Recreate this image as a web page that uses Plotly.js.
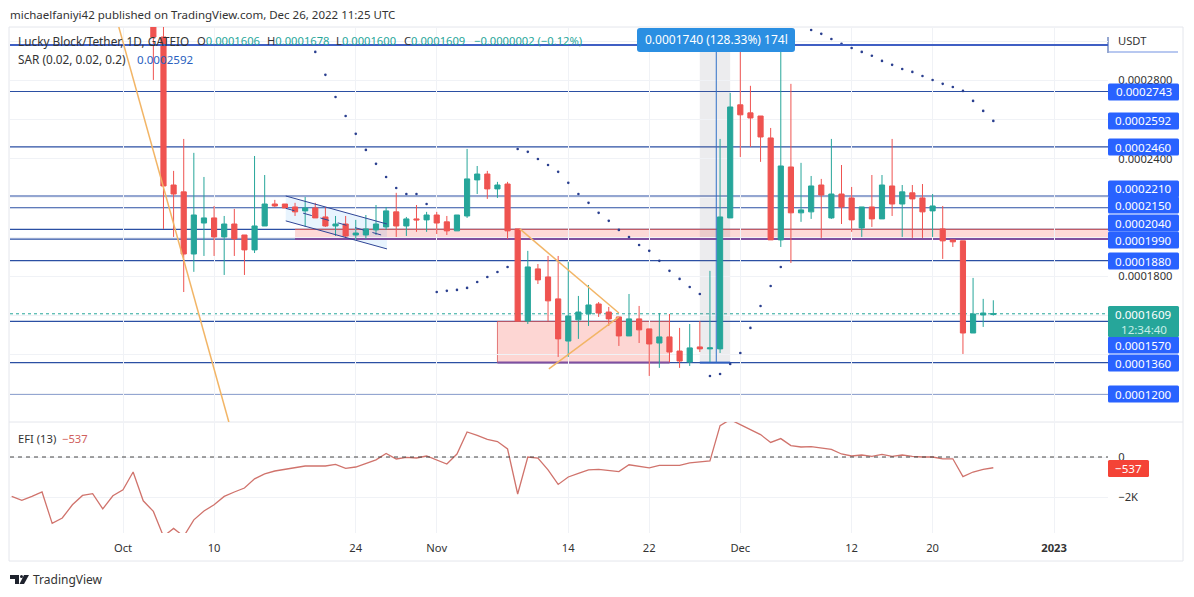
<!DOCTYPE html>
<html>
<head>
<meta charset="utf-8">
<script src="https://cdn.plot.ly/plotly-3.0.1.min.js"></script>
<style>html,body{margin:0;padding:0;background:#fff}#chart{width:1194px;height:597px}</style>
</head>
<body>
<div id="chart"></div>
<script>
// Prices are listed in units of 0.0001 USDT
const PRICE_UNIT = 1e-4;
const firstCandleDay = '2022-10-04';
const open  = [3.090,3.021,2.266,2.231,1.914,2.072,2.098,2.001,2.067,2.011,1.935,2.057,2.169,2.169,2.154,2.134,2.149,2.103,2.057,2.067,2.011,2.011,2.037,2.052,2.129,2.057,2.093,2.088,2.113,2.078,2.032,2.108,2.292,2.322,2.246,2.271,2.042,1.572,1.838,1.797,1.685,1.470,1.578,1.608,1.659,1.618,1.593,1.496,1.583,1.532,1.460,1.491,1.419,1.363,1.440,1.430,1.430,2.098,2.675,2.634,2.618,2.506,1.986,2.358,2.124,2.129,2.266,2.098,2.220,2.200,2.047,2.154,2.093,2.261,2.169,2.226,2.200,2.134,2.042,1.986,1.981,1.511,1.603,1.606];
const high  = [3.200,3.200,2.338,2.501,2.430,2.307,2.159,2.108,2.144,2.011,2.414,2.317,2.190,2.169,2.175,2.205,2.175,2.154,2.108,2.108,2.088,2.113,2.164,2.154,2.226,2.103,2.164,2.129,2.129,2.108,2.113,2.450,2.363,2.338,2.282,2.282,2.042,1.930,1.863,1.904,1.904,1.874,1.700,1.756,1.669,1.644,1.593,1.710,1.649,1.532,1.613,1.608,1.537,1.557,1.572,1.828,2.501,2.736,2.965,2.772,2.618,2.557,2.970,2.782,2.379,2.312,2.297,2.501,2.368,2.256,2.154,2.317,2.317,2.501,2.266,2.266,2.271,2.220,2.159,1.986,1.981,1.792,1.685,1.678];
const low   = [2.802,2.042,2.001,1.720,1.823,1.904,1.904,1.807,1.904,1.807,1.919,2.057,2.154,2.149,2.108,2.052,2.098,2.052,2.006,1.996,1.986,1.991,2.011,2.037,2.001,2.006,2.027,2.027,2.016,2.011,2.032,2.098,2.220,2.195,2.200,1.991,1.572,1.557,1.761,1.572,1.389,1.389,1.481,1.547,1.593,1.547,1.445,1.496,1.460,1.292,1.333,1.363,1.333,1.343,1.414,1.363,1.409,2.098,2.409,2.460,2.384,1.986,1.950,1.868,2.078,2.093,1.996,2.093,2.067,2.027,2.001,2.052,2.093,2.108,2.001,1.996,1.996,2.001,1.889,1.950,1.404,1.511,1.542,1.600];
const close = [3.021,2.261,2.220,1.914,2.113,2.098,2.001,2.067,1.991,1.935,2.057,2.169,2.159,2.149,2.129,2.149,2.098,2.057,2.067,2.006,2.021,2.042,2.067,2.134,2.057,2.093,2.088,2.113,2.072,2.032,2.113,2.297,2.322,2.246,2.266,2.032,1.572,1.848,1.782,1.675,1.481,1.598,1.618,1.654,1.613,1.583,1.496,1.583,1.527,1.455,1.491,1.414,1.368,1.435,1.430,1.435,2.103,2.664,2.624,2.608,2.511,1.986,2.363,2.124,2.139,2.261,2.215,2.220,2.154,2.088,2.154,2.093,2.266,2.169,2.231,2.195,2.129,2.159,1.981,1.976,1.511,1.608,1.613,1.609];

// Parabolic SAR segments: [first day, values...]
const sarUp1   = ['2022-10-20',2.945,2.828,2.715,2.618,2.527,2.445,2.374,2.307,2.251,2.220,2.220,2.169];
const sarDown1 = ['2022-11-01',1.720,1.726,1.731,1.741,1.771,1.797,1.822,1.848];
const sarUp2   = ['2022-11-09',2.450,2.435,2.399,2.368,2.333,2.277,2.220,2.175,2.124,2.083,2.037,2.001,1.960,1.930,1.879,1.828,1.787,1.746,1.710];
const sarDown2 = ['2022-11-28',1.292,1.302,1.353,1.409,1.537,1.649,1.751,1.848];
const sarUp3   = ['2022-12-08',3.057,3.037,3.011,2.986,2.965,2.945,2.925,2.899,2.879,2.858,2.843,2.822,2.802,2.782,2.766,2.746,2.695,2.644,2.593];

// Elder force index, thousands, daily from 20 Sep
const efiFirstDay = '2022-09-20';
const efi = [-1.97,-2.17,-1.97,-1.75,-3.32,-3.05,-2.39,-1.92,-1.83,-2.59,-1.94,-1.64,-0.75,-2.19,-2.72,-3.97,-3.57,-3.97,-3.14,-2.70,-2.39,-1.97,-1.75,-1.55,-1.09,-0.84,-0.70,-0.62,-0.54,-0.45,-0.45,-0.45,-0.37,-0.57,-0.50,-0.30,-0.14,0.18,-0.10,-0.02,-0.05,0.05,-0.17,-0.35,0.15,1.25,1.08,0.88,0.77,0.40,-1.85,0.00,-0.05,-0.64,-1.37,-1.00,-0.82,-0.64,-0.62,-0.67,-0.73,-0.39,-0.47,-0.54,-0.42,-0.42,-0.42,-0.29,-0.24,-0.20,1.57,1.87,1.62,1.37,1.12,0.73,0.92,0.57,0.50,0.52,0.45,0.38,0.15,0.05,0.10,0.03,0.13,0.03,0.10,0.03,0.00,0.00,-0.09,-0.09,-0.98,-0.75,-0.62,-0.537];

const levels = [2.743,2.460,2.210,2.150,2.040,1.990,1.880,1.570,1.360,1.200];
const axisLabels = ['0.0002743','0.0002592','0.0002460','0.0002210','0.0002150','0.0002040','0.0001990','0.0001880','0.0001570','0.0001360','0.0001200'];
const priceGrid = [1.2,1.4,1.6,1.8,2.0,2.2,2.4,2.6,2.8,3.0];
const priceGridShown = [1.8,2.4,2.8];
const timeTicks = ['2022-10-01','2022-10-10','2022-10-24','2022-11-01','2022-11-14','2022-11-22','2022-12-01','2022-12-12','2022-12-20','2023-01-01'];
const timeLabels = ['Oct','10','24','Nov','14','22','Dec','12','20','<b>2023</b>'];

// Helpers
const p = v => v * PRICE_UNIT;
const days = (start, n) => {
  const out = [], d = new Date(start + 'T00:00:00Z');
  for (let i = 0; i < n; i++) { out.push(d.toISOString().slice(0,10)); d.setUTCDate(d.getUTCDate()+1); }
  return out;
};
const W = 1194, H = 597, L = 10, R = 1108, T = 27, B = 561;
const px = x => (x - L) / (R - L);
const py = y => (B - y) / (B - T);
const FONT = '"Noto Sans", sans-serif';

const candleDays = days(firstCandleDay, open.length);
const sarSeg = seg => ({x: days(seg[0], seg.length-1), y: seg.slice(1).map(p)});
const sarAll = [sarUp1,sarDown1,sarUp2,sarDown2,sarUp3].map(sarSeg);

const traces = [
  {type:'candlestick', x:candleDays, open:open.map(p), high:high.map(p), low:low.map(p), close:close.map(p),
   increasing:{line:{color:'#26a69a',width:1},fillcolor:'#26a69a'},
   decreasing:{line:{color:'#ef5350',width:1},fillcolor:'#ef5350'},
   whiskerwidth:0, xaxis:'x', yaxis:'y', showlegend:false},
  {type:'scatter', mode:'markers', x:sarAll.flatMap(s=>s.x), y:sarAll.flatMap(s=>s.y),
   marker:{size:2.6,color:'#2a3f8f'}, xaxis:'x', yaxis:'y', showlegend:false},
  {type:'scatter', mode:'lines', x:days(efiFirstDay, efi.length), y:efi,
   line:{color:'#d0736c',width:1.3}, xaxis:'x', yaxis:'y2', showlegend:false}
];

const BLUE = '#2b4fa3';
const ORANGE = '#f2b566';
const seg = (x0,y0,x1,y1,line,layer) => ({type:'line',xref:'x',yref:'y',x0,x1,y0:p(y0),y1:p(y1),line,layer:layer||'above'});
const pxLine = (x0,y0,x1,y1,color,width) => ({type:'line',xref:'paper',yref:'paper',x0:px(x0),x1:px(x1),y0:py(y0),y1:py(y1),line:{color,width},layer:'below'});
const round = (x0,y0,x1,y1,r,color) => ({type:'path',xref:'paper',yref:'paper',fillcolor:color,line:{width:0},layer:'above',
  path:`M ${px(x0+r)},${py(y0)} L ${px(x1-r)},${py(y0)} Q ${px(x1)},${py(y0)} ${px(x1)},${py(y0+r)} L ${px(x1)},${py(y1-r)} Q ${px(x1)},${py(y1)} ${px(x1-r)},${py(y1)} L ${px(x0+r)},${py(y1)} Q ${px(x0)},${py(y1)} ${px(x0)},${py(y1-r)} L ${px(x0)},${py(y0+r)} Q ${px(x0)},${py(y0)} ${px(x0+r)},${py(y0)} Z`});

const boxYs = [92,121,147,189,205,223,240,261,345,363,394];
const BOXL = 1108, BOXR = 1179, BOXC = (BOXL+BOXR)/2;

const shapes = [
  // Frame and pane separator
  {type:'rect',xref:'paper',yref:'paper',x0:px(9),x1:px(1183),y0:py(561),y1:py(27),line:{color:'#e4e6ec',width:1},layer:'below'},
  pxLine(9,422,1183,422,'#e4e6ec',1),
  pxLine(1108,37,1108,53,'#2b4fa3',1),
  pxLine(1109,52,1178,52,'#b8c8f0',2),
  // Supply / demand zones
  {type:'rect',xref:'x',yref:'y',x0:'2022-10-18',x1:'2023-01-06 08:00',y0:p(1.99),y1:p(2.04),fillcolor:'rgba(244,67,54,0.2)',line:{width:0},layer:'below'},
  {type:'rect',xref:'x',yref:'y',x0:'2022-11-07',x1:'2022-11-24',y0:p(1.36),y1:p(1.57),fillcolor:'rgba(244,67,54,0.22)',line:{color:'rgba(220,90,90,0.8)',width:1},layer:'below'},
  // Date/price range band
  {type:'rect',xref:'x',yref:'y',x0:'2022-11-27',x1:'2022-11-30',y0:p(1.36),y1:p(2.98),fillcolor:'rgba(120,123,134,0.14)',line:{width:0},layer:'below'},
  // Channel
  {type:'path',xref:'x',yref:'y',path:`M 2022-10-17_02:00,${p(2.210)} L 2022-10-27_02:00,${p(2.067)} L 2022-10-27_02:00,${p(1.940)} L 2022-10-17_02:00,${p(2.083)} Z`,fillcolor:'rgba(33,150,243,0.1)',line:{width:0},layer:'below'},
  // Levels
  ...levels.map(v => ({type:'line',xref:'paper',yref:'y',x0:0,x1:1,y0:p(v),y1:p(v),line:{color:BLUE,width:1.2},layer:'below'})),
  {type:'line',xref:'paper',yref:'y',x0:0,x1:1,y0:p(2.98),y1:p(2.98),line:{color:'#3f5fc4',width:2},layer:'above'},
  // Zone edges
  seg('2022-10-18',2.04,'2023-01-06 08:00',2.04,{color:'#e0605c',width:1},'below'),
  seg('2022-10-18',1.99,'2023-01-06 08:00',1.99,{color:'#7e4fa0',width:2},'below'),
  seg('2022-11-07',1.36,'2022-11-24',1.36,{color:'#7e4fa0',width:2},'below'),
  seg('2022-11-27',1.36,'2022-11-30',1.36,{color:'#2f5fc0',width:2},'below'),
  // Last price
  {type:'line',xref:'paper',yref:'y',x0:0,x1:1,y0:p(1.609),y1:p(1.609),line:{color:'#26a69a',width:1,dash:'dot'},layer:'below'},
  // Channel borders
  seg('2022-10-17 02:00',2.210,'2022-10-27 02:00',2.067,{color:'#2f4596',width:1}),
  seg('2022-10-17 02:00',2.083,'2022-10-27 02:00',1.940,{color:'#2f4596',width:1}),
  seg('2022-10-17 02:00',2.147,'2022-10-27 02:00',2.003,{color:'#2f4596',width:1,dash:'dash'}),
  // Trend lines
  seg('2022-09-30 14:00',3.072,'2022-10-11 11:00',1.057,{color:ORANGE,width:1.5}),
  seg('2022-11-09 05:00',2.042,'2022-11-19',1.613,{color:ORANGE,width:1.5}),
  seg('2022-11-12 02:00',1.328,'2022-11-19',1.593,{color:ORANGE,width:1.5}),
  // Range arrow
  seg('2022-11-28 15:00',1.36,'2022-11-28 15:00',2.98,{color:'#2f70c8',width:1}),
  // EFI zero
  {type:'line',xref:'paper',yref:'y2',x0:0,x1:1,y0:0,y1:0,line:{color:'#444',width:1,dash:'4px,4px'},layer:'above'},
  // Label plates
  round(637,28,795,52,3,'#2b8fe2'),
  ...boxYs.map(y => round(BOXL,y-8.5,BOXR,y+8.5,1.5,'#2962ff')),
  round(BOXL,306,BOXR,337,1.5,'#26a69a'),
  round(BOXL,460,1149,477,1.5,'#f44336'),
  // TradingView logo
  {type:'path',xref:'paper',yref:'paper',fillcolor:'#1e222d',line:{width:0},layer:'above',
   path:`M ${px(10)},${py(575)} L ${px(19)},${py(575)} L ${px(19)},${py(584)} L ${px(15)},${py(584)} L ${px(15)},${py(579)} L ${px(10)},${py(579)} Z`},
  {type:'circle',xref:'paper',yref:'paper',fillcolor:'#1e222d',line:{width:0},layer:'above',x0:px(20),x1:px(23),y0:py(578),y1:py(575)},
  {type:'path',xref:'paper',yref:'paper',fillcolor:'#1e222d',line:{width:0},layer:'above',
   path:`M ${px(24)},${py(575)} L ${px(29)},${py(575)} L ${px(24)},${py(584)} L ${px(19.5)},${py(584)} Z`}
];

const ann = (text, xPx, yPx, opts) => Object.assign({xref:'paper',yref:'paper',x:px(xPx),y:py(yPx),text,showarrow:false,xanchor:'left',yanchor:'middle',align:'left',font:{family:FONT,size:11.8,color:'#131722'}},opts||{});
const boxText = (text, yPx, xc, size) => ann(text, xc||BOXC, yPx, {xanchor:'center',align:'center',font:{family:FONT,size:size||11.6,color:'#fff'}});
const UP = '#26a69a';
const ink = (size, color) => ({font:{family:FONT,size,color:color||'#333'}});
const ohlc = v => `<span style="color:${UP}">${v}</span>`;
const annotations = [
  ann('michaelfaniyi42 published on TradingView.com, Dec 26, 2022 11:25 UTC',8,15,ink(11.5)),
  ann('Lucky Block/Tether, 1D, GATEIO',16,41,ink(11.8)),
  ann(`O${ohlc('0.0001606')}`,195,41,ink(11.2)),
  ann(`H${ohlc('0.0001678')}`,265,41,ink(11.2)),
  ann(`L${ohlc('0.0001600')}`,334,41,ink(11.2)),
  ann(`C${ohlc('0.0001609')}`,402,41,ink(11.2)),
  ann('−0.0000002 (−0.12%)',472,41,ink(11.2,UP)),
  ann('SAR (0.02, 0.02, 0.2)',16,59,ink(11.8)),
  ann('0.0002592',135,59,ink(11.6,'#2a5fc0')),
  ann('EFI (13)  <span style="color:#d0605c">−537</span>',16,438,ink(11.2)),
  ann('USDT',1116,41,ink(11.2)),
  ann('TradingView',31,579,ink(12)),
  boxText('0.0001740 (128.33%) 174l',39.5,716,12),
  ...axisLabels.map((t,i)=>boxText(t,boxYs[i])),
  boxText('0.0001609',314),
  boxText('<span style="color:#c6eee8">12:34:40</span>',329),
  boxText('−537',468.5,1128.5)
];

const axisFont = {family:FONT,size:11.2,color:'#333'};
const layout = {
  width:W, height:H, margin:{l:L,r:W-R,t:T,b:H-B,pad:0},
  paper_bgcolor:'#fff', plot_bgcolor:'#fff', showlegend:false, dragmode:false, hovermode:false,
  boxgap:0.27,
  font:{family:FONT,size:11.2,color:'#333'},
  xaxis:{type:'date',domain:[0,1],anchor:'y2',range:['2022-09-19 20:00','2023-01-06 08:00'],
    rangeslider:{visible:false},tickmode:'array',tickvals:timeTicks,ticktext:timeLabels,
    showgrid:true,gridcolor:'#f0f2f6',gridwidth:1,zeroline:false,showline:false,ticks:'outside',ticklen:5,tickcolor:'rgba(0,0,0,0)',tickfont:axisFont},
  yaxis:{domain:[py(422),1],side:'right',anchor:'x',range:[p(1.057),p(3.072)],tickmode:'array',
    tickvals:priceGrid.map(p),
    ticktext:priceGrid.map(v=>priceGridShown.includes(v)?p(v).toFixed(7):''),
    showgrid:true,gridcolor:'#f0f2f6',gridwidth:1,zeroline:false,showline:false,ticks:'outside',ticklen:7,tickcolor:'rgba(0,0,0,0)',tickfont:axisFont},
  yaxis2:{domain:[py(533),py(422)],side:'right',anchor:'x',range:[-3.8,1.75],tickmode:'array',tickvals:[0,-2],ticktext:['0','−2K'],
    showgrid:true,gridcolor:'#f0f2f6',gridwidth:1,zeroline:false,showline:false,ticks:'outside',ticklen:7,tickcolor:'rgba(0,0,0,0)',tickfont:axisFont},
  shapes, annotations
};

Plotly.newPlot('chart', traces, layout, {displayModeBar:false, staticPlot:true});
</script>
</body>
</html>
